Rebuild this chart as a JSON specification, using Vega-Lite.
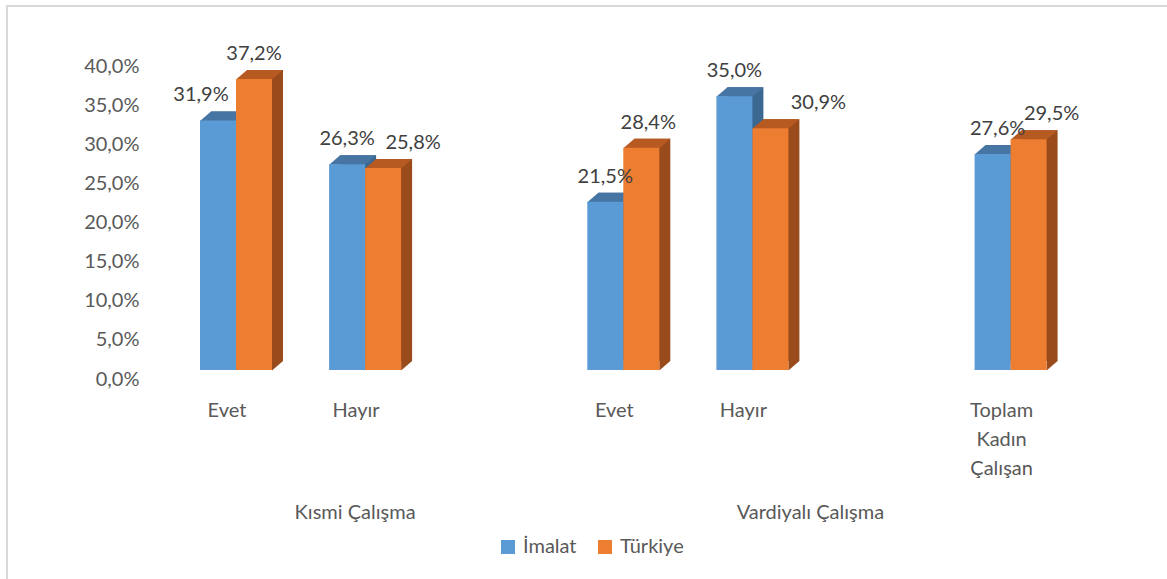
{
  "$schema": "https://vega.github.io/schema/vega-lite/v6.json",
  "width": 1165,
  "height": 578,
  "autosize": {"type": "none"},
  "padding": {"left": 7, "top": 6, "right": -5, "bottom": -5},
  "background": "white",
  "config": {
    "locale": {"number": {"decimal": ",", "thousands": ".", "grouping": [3], "currency": ["", " TL"]}},
    "view": {"stroke": "#D9D9D9", "strokeWidth": 2},
    "font": "Lato",
    "axis": {
      "labelFont": "Lato", "labelFontSize": 20, "labelColor": "#595959", "labelAngle": 0,
      "domain": false, "ticks": false, "tickSize": 0, "grid": false,
      "title": null, "labelPadding": 0, "labelOverlap": false, "labelBound": false, "labelFlush": false
    },
    "legend": {
      "labelFont": "Lato", "labelFontSize": 20, "labelColor": "#595959",
      "symbolType": "square", "symbolSize": 196, "symbolStrokeWidth": 0,
      "padding": 0, "columnPadding": 18, "labelOffset": 5
    }
  },
  "data": {
    "values": [
      {"slot": "K-Evet", "series": "İmalat", "v": 0.319},
      {"slot": "K-Evet", "series": "Türkiye", "v": 0.372},
      {"slot": "K-Hayır", "series": "İmalat", "v": 0.263},
      {"slot": "K-Hayır", "series": "Türkiye", "v": 0.258},
      {"slot": "V-Evet", "series": "İmalat", "v": 0.215},
      {"slot": "V-Evet", "series": "Türkiye", "v": 0.284},
      {"slot": "V-Hayır", "series": "İmalat", "v": 0.350},
      {"slot": "V-Hayır", "series": "Türkiye", "v": 0.309},
      {"slot": "Toplam", "series": "İmalat", "v": 0.276},
      {"slot": "Toplam", "series": "Türkiye", "v": 0.295}
    ]
  },
  "resolve": {"scale": {"xOffset": "independent"}, "axis": {"x": "independent", "y": "independent"}},
  "layer": [
    {
      "mark": {"type": "bar", "yOffset": -9, "y2Offset": -9},
      "encoding": {
        "x": {"field": "slot", "type": "nominal", "axis": null,
              "scale": {"domain": ["K-Evet", "K-Hayır", "K-boş", "V-Evet", "V-Hayır", "V-boş", "Toplam"], "range": [164.45, 1068.15], "paddingInner": 0.4423, "paddingOuter": 0.2212}},
        "xOffset": {"field": "series", "type": "nominal", "scale": {"type": "band", "domain": ["İmalat", "Türkiye"], "range": [11, 83], "paddingInner": 0, "paddingOuter": 0}},
        "y": {"field": "v", "type": "quantitative", "axis": null, "scale": {"domain": [0, 0.4], "range": [364, 51], "nice": false, "zero": true}},
        "color": {"condition": {"test": "datum.series === 'İmalat'", "value": "#3B6891"}, "value": "#9A4B1C"}
      }
    },
    {
      "mark": {"type": "point", "filled": true, "opacity": 1, "strokeWidth": 0, "size": 4, "shape": "M18,0.5 L18,-9 L29,-9 Z"},
      "encoding": {
        "x": {"field": "slot", "type": "nominal", "axis": null},
        "xOffset": {"field": "series", "type": "nominal", "scale": {"type": "band", "domain": ["İmalat", "Türkiye"], "range": [0, 72], "paddingInner": 0, "paddingOuter": 0}},
        "y": {"datum": 0, "type": "quantitative", "axis": null},
        "color": {"condition": {"test": "datum.series === 'İmalat'", "value": "#3B6891"}, "value": "#9A4B1C"}
      }
    },
    {
      "mark": {"type": "point", "filled": true, "opacity": 1, "strokeWidth": 0, "size": 4, "shape": "M-18,0.5 L18,0.5 L29,-9 L-7,-9 Z"},
      "encoding": {
        "x": {"field": "slot", "type": "nominal", "axis": null},
        "xOffset": {"field": "series", "type": "nominal", "scale": {"type": "band", "domain": ["İmalat", "Türkiye"], "range": [0, 72], "paddingInner": 0, "paddingOuter": 0}},
        "y": {"field": "v", "type": "quantitative", "axis": null},
        "color": {"condition": {"test": "datum.series === 'İmalat'", "value": "#4675A3"}, "value": "#B65A22"}
      }
    },
    {
      "mark": {"type": "bar"},
      "encoding": {
        "x": {"field": "slot", "type": "nominal",
              "axis": {"orient": "bottom", "offset": -184, "labelBaseline": "top", "labelOffset": -9, "labelLineHeight": 29,
                       "labelExpr": "datum.value == 'K-Evet' || datum.value == 'V-Evet' ? 'Evet' : datum.value == 'K-Hayır' || datum.value == 'V-Hayır' ? 'Hayır' : datum.value == 'Toplam' ? ['Toplam', 'Kadın', 'Çalışan'] : ''"}},
        "xOffset": {"field": "series", "type": "nominal", "scale": {"type": "band", "domain": ["İmalat", "Türkiye"], "range": [0, 72], "paddingInner": 0, "paddingOuter": 0}},
        "y": {"field": "v", "type": "quantitative",
              "axis": {"orient": "left", "offset": -132, "values": [0, 0.05, 0.1, 0.15, 0.2, 0.25, 0.3, 0.35, 0.4], "format": ".1%", "labelOffset": 9, "labelAlign": "right", "labelBaseline": "middle"}},
        "color": {"field": "series", "type": "nominal",
                  "scale": {"domain": ["İmalat", "Türkiye"], "range": ["#5B9BD5", "#ED7D31"]},
                  "legend": {"orient": "none", "legendX": 491, "legendY": 531, "direction": "horizontal", "title": null}}
      }
    },
    {
      "mark": {"type": "text", "fontSize": 20, "font": "Lato", "color": "#404040", "baseline": "middle", "align": "center", "dy": -25,
               "dx": {"expr": "datum.series === 'İmalat' ? (datum.slot === 'K-Evet' ? -17 : datum.slot === 'Toplam' ? 5 : 0) : (datum.slot === 'K-Hayır' ? 30 : datum.slot === 'V-Evet' ? 7 : datum.slot === 'V-Hayır' ? 48 : datum.slot === 'Toplam' ? 23 : 0)"}},
      "encoding": {
        "x": {"field": "slot", "type": "nominal",
              "axis": {"orient": "bottom", "offset": -82, "labelBaseline": "top",
                       "labelOffset": {"condition": {"test": "datum.value == 'V-Hayır'", "value": 58}, "value": -10},
                       "labelExpr": "datum.value == 'K-Hayır' ? 'Kısmi Çalışma' : datum.value == 'V-Hayır' ? 'Vardiyalı Çalışma' : ''"}},
        "xOffset": {"field": "series", "type": "nominal", "scale": {"type": "band", "domain": ["İmalat", "Türkiye"], "range": [0, 72], "paddingInner": 0, "paddingOuter": 0}},
        "y": {"field": "v", "type": "quantitative", "axis": null},
        "text": {"field": "v", "type": "quantitative", "format": ".1%"}
      }
    }
  ]
}
